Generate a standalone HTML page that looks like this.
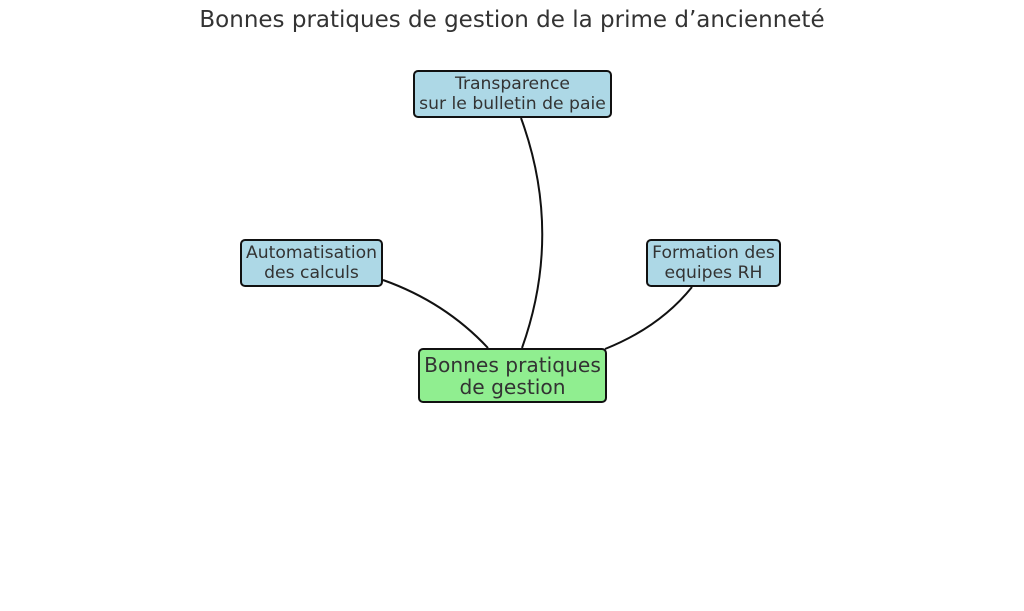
<!DOCTYPE html>
<html><head><meta charset="utf-8"><style>
body{margin:0;width:1024px;height:611px;background:#fff;overflow:hidden;font-family:"DejaVu Sans","Liberation Sans",sans-serif;}
.t{position:absolute;left:0;width:1024px;top:7px;text-align:center;font-size:23px;color:#333;}
.b{position:absolute;box-sizing:border-box;border:2px solid #111;border-radius:5px;background:#add8e6;color:#333;text-align:center;font-size:17.2px;line-height:20px;display:flex;align-items:center;justify-content:center;white-space:nowrap;}
.g{background:#90ee90;font-size:20.2px;line-height:22px;}
</style></head><body>
<div class="t">Bonnes pratiques de gestion de la prime d’ancienneté</div>
<svg width="1024" height="611" style="position:absolute;left:0;top:0">
<g fill="none" stroke="#111" stroke-width="2">
<path d="M521 118 Q563 233 522 348"/>
<path d="M383 280 Q445 302 488 348"/>
<path d="M692 287 Q660 327 605 349"/>
</g></svg>
<div class="b" style="left:413px;top:70px;width:199px;height:48px">Transparence<br>sur le bulletin de paie</div>
<div class="b" style="left:240px;top:239px;width:143px;height:48px">Automatisation<br>des calculs</div>
<div class="b" style="left:646px;top:239px;width:135px;height:48px">Formation des<br>equipes RH</div>
<div class="b g" style="left:418px;top:348px;width:189px;height:55px">Bonnes pratiques<br>de gestion</div>
</body></html>
